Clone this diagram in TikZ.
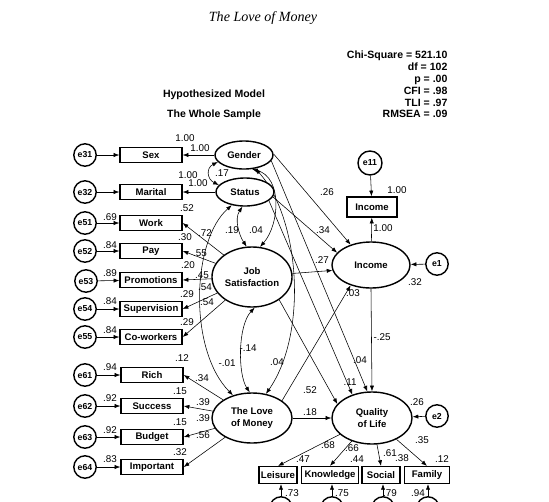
\documentclass[tikz,border=0pt]{standalone}
\usepackage{fontspec}
\setmainfont{Liberation Serif}
\setsansfont{Liberation Sans}
\usetikzlibrary{arrows.meta,shapes.geometric,backgrounds}

\tikzset{
  lat/.style={ellipse,draw,line width=1pt,fill=white,inner sep=0pt,align=center,
    font=\sffamily\bfseries\fontsize{6.8}{9}\selectfont},
  obs/.style={rectangle,draw,line width=1pt,fill=white,minimum width=1.55cm,
    minimum height=0.38cm,inner sep=0pt,font=\sffamily\bfseries\fontsize{6.8}{8}\selectfont},
  err/.style={circle,draw,line width=1pt,fill=white,minimum size=0.56cm,inner sep=0pt,
    font=\sffamily\bfseries\fontsize{6.2}{7}\selectfont},
  num/.style={inner sep=0pt,font=\sffamily\fontsize{7}{8}\selectfont},
  head/.style={inner sep=0pt,font=\sffamily\bfseries\fontsize{7.5}{8.5}\selectfont}
}

\begin{document}
\begin{tikzpicture}[x=0.025cm,y=-0.025cm,line width=0.8pt,>={Latex[length=4pt,width=3pt]}]
\useasboundingbox (0,0) rectangle (549,502);
% ---------- headings ----------
\node[inner sep=0pt,font=\itshape\fontsize{10}{12}\selectfont] (title) at (263,18) {The Love of Money};
\node[head] (hyp) at (214,95) {Hypothesized Model};
\node[head] (whole) at (214,115) {The Whole Sample};
\node[head,align=right,anchor=north east] (fit) at (448,50)
  {Chi-Square = 521.10\\df = 102\\p = .00\\CFI = .98\\TLI = .97\\RMSEA = .09};
% ---------- latent variables ----------
\node[lat,minimum width=1.45cm,minimum height=0.7cm] (gender) at (244,155) {Gender};
\node[lat,minimum width=1.45cm,minimum height=0.7cm] (status) at (245,192) {Status};
\node[lat,minimum width=2cm,minimum height=1.5cm] (jobsat) at (252,277) {Job\\Satisfaction};
\node[lat,minimum width=1.95cm,minimum height=1.15cm] (income) at (371,265) {Income};
\node[lat,minimum width=2cm,minimum height=1.25cm] (lom) at (252,418) {The Love\\of Money};
\node[lat,minimum width=2cm,minimum height=1.3cm] (qol) at (372,418) {Quality\\of Life};
% ---------- observed variables ----------
\node[obs] (sex) at (151,155) {Sex};
\node[obs] (marital) at (151,192) {Marital};
\node[obs] (work) at (151,223) {Work};
\node[obs] (pay) at (151,251) {Pay};
\node[obs] (promo) at (151,280) {Promotions};
\node[obs] (superv) at (151,309) {Supervision};
\node[obs] (cowork) at (151,337) {Co-workers};
\node[obs] (rich) at (152,375) {Rich};
\node[obs] (success) at (152,406) {Success};
\node[obs] (budget) at (152,437) {Budget};
\node[obs] (import) at (152,467) {Important};
\node[obs,minimum width=1.25cm,minimum height=0.5cm] (incbox) at (372,207) {Income};
\node[obs,minimum width=0.95cm,minimum height=0.42cm] (leisure) at (278,475) {Leisure};
\node[obs,minimum width=1.42cm,minimum height=0.42cm] (knowl) at (330,475) {Knowledge};
\node[obs,minimum width=0.95cm,minimum height=0.42cm] (social) at (381,475) {Social};
\node[obs,minimum width=1.13cm,minimum height=0.42cm] (family) at (427,475) {Family};
% ---------- error terms ----------
\node[err] (e31) at (85,155) {e31};
\node[err] (e32) at (85,192) {e32};
\node[err] (e51) at (85,223) {e51};
\node[err] (e52) at (85,251) {e52};
\node[err] (e53) at (86,281) {e53};
\node[err] (e54) at (85,309) {e54};
\node[err] (e55) at (85,337) {e55};
\node[err] (e61) at (85,375) {e61};
\node[err] (e62) at (85,406) {e62};
\node[err] (e63) at (85,437) {e63};
\node[err] (e64) at (85,467) {e64};
\node[err,minimum size=0.6cm] (e11) at (370,163) {e11};
\node[err] (e1) at (437,264) {e1};
\node[err] (e2) at (437,416) {e2};
\node[err] (e71) at (281,508) {};
\node[err] (e72) at (332,508) {};
\node[err] (e73) at (383,508) {};
\node[err] (e74) at (428,508) {};
% ---------- connectors ----------
\begin{scope}[on background layer]
\fill[white] (0,0) rectangle (549,502);
% errors into indicators
\draw[->] (e31) -- (sex);
\draw[->] (e32) -- (marital);
\draw[->] (e51) -- (work);
\draw[->] (e52) -- (pay);
\draw[->] (e53) -- (promo);
\draw[->] (e54) -- (superv);
\draw[->] (e55) -- (cowork);
\draw[->] (e61) -- (rich);
\draw[->] (e62) -- (success);
\draw[->] (e63) -- (budget);
\draw[->] (e64) -- (import);
\draw[->] (e11) -- (incbox);
\draw[->] (e71) -- (e71 |- leisure.south);
\draw[->] (e72) -- (e72 |- knowl.south);
\draw[->] (e73) -- (e73 |- social.south);
\draw[->] (e74) -- (e74 |- family.south);
\draw[->] (e1) -- (income);
\draw[->] (e2) -- (qol);
% loadings
\draw[->] (gender) -- (sex);
\draw[->] (status) -- (marital);
\draw[->] (jobsat) -- (work.east);
\draw[->] (jobsat) -- (pay.east);
\draw[->] (jobsat) -- (promo.east);
\draw[->] (jobsat) -- (superv.east);
\draw[->] (jobsat) -- (cowork.east);
\draw[->] (lom) -- (rich.east);
\draw[->] (lom) -- (success.east);
\draw[->] (lom) -- (budget.east);
\draw[->] (lom) -- (import.east);
\draw[->] (income) -- (incbox);
\draw[->] (qol) -- (leisure.north);
\draw[->] (qol) -- (knowl.north);
\draw[->] (qol) -- (social.north);
\draw[->] (qol) -- (family.north);
% correlations
\draw[<->] (gender.195) .. controls +(-12,6) and +(-12,-6) .. (status.165);
\draw[<->] (status.-100) .. controls +(-8,12) and +(-8,-12) .. (jobsat.100);
\draw[<->] (gender.-60) .. controls +(30,8) and +(20,-23) .. (jobsat.75);
\draw[<->] (gender.-50) .. controls +(45,50) and +(42,-60) .. (lom.60);
\draw[<->] (status.-135) .. controls +(-40,35) and +(-45,-46) .. (lom.130);
\draw[<->] (jobsat.-85) .. controls +(-17,18) and +(-12,-18) .. (lom.95);
% structural paths
\draw[->] (gender.2) -- (income.135);
\draw[->] (status.-10) -- (income.160);
\draw[->] (jobsat.5) -- (income.188);
\draw[->] (lom.30) -- (income.225);
\draw[->] (income.south) -- (qol.north);
\draw[->] (gender.-12) -- (qol.100);
\draw[->] (status.-20) -- (qol.130);
\draw[->] (jobsat.-40) -- (qol.158);
\draw[->] (lom) -- (qol);
\end{scope}
% ---------- estimates, left ----------
\node[num] (vSex) at (185,138) {1.00};
\node[num] (lSex) at (200,148) {1.00};
\node[num] (cGS) at (222,173) {.17};
\node[num] (vMar) at (188,175) {1.00};
\node[num] (lMar) at (198,183) {1.00};
\node[num] (rWork) at (187,208) {.52};
\node[num] (eWork) at (110,217) {.69};
\node[num] (lWork) at (205,233) {.72};
\node[num] (cSJ) at (232,230) {.19};
\node[num] (cGJ) at (256,230) {.04};
\node[num] (rPay) at (185,237) {.30};
\node[num] (ePay) at (110,245) {.84};
\node[num] (lPay) at (200,253) {.55};
\node[num] (rPro) at (188,265) {.20};
\node[num] (ePro) at (110,273) {.89};
\node[num] (lPro) at (202,275) {.45};
\node[num] (lSup) at (205,287) {.54};
\node[num] (rSup) at (187,294) {.29};
\node[num] (eSup) at (110,301) {.84};
\node[num] (lCow) at (207,302) {.54};
\node[num] (rCow) at (187,322) {.29};
\node[num] (eCow) at (110,330) {.84};
\node[num] (cJL) at (248,348) {-.14};
\node[num] (rRich) at (182,358) {.12};
\node[num] (eRich) at (110,367) {.94};
\node[num] (cSL) at (227,363) {-.01};
\node[num] (cGL) at (277,362) {.04};
\node[num] (lRich) at (202,378) {.34};
\node[num] (rSuc) at (180,391) {.15};
\node[num] (eSuc) at (110,398) {.92};
\node[num] (lSuc) at (203,402) {.39};
\node[num] (lBud) at (203,418) {.39};
\node[num] (rBud) at (180,422) {.15};
\node[num] (eBud) at (110,430) {.92};
\node[num] (lImp) at (203,435) {.56};
\node[num] (rImp) at (180,452) {.32};
\node[num] (eImp) at (110,459) {.83};
% ---------- estimates, right ----------
\node[num] (pGI) at (327,192) {.26};
\node[num] (pSI) at (323,230) {.34};
\node[num] (pJI) at (322,260) {.27};
\node[num] (pLI) at (353,293) {.03};
\node[num] (vInc) at (397,190) {1.00};
\node[num] (lInc) at (383,228) {1.00};
\node[num] (rInc) at (415,282) {.32};
\node[num] (pIQ) at (382,337) {-.25};
\node[num] (pGQ) at (360,360) {.04};
\node[num] (pSQ) at (350,382) {.11};
\node[num] (pJQ) at (310,390) {.52};
\node[num] (pLQ) at (310,412) {.18};
\node[num] (rQol) at (417,402) {.26};
\node[num] (lLei) at (328,445) {.68};
\node[num] (lKno) at (352,448) {.66};
\node[num] (lSoc) at (390,453) {.61};
\node[num] (rSoc) at (402,458) {.38};
\node[num] (lFam) at (422,440) {.35};
\node[num] (rLei) at (303,459) {.47};
\node[num] (rKno) at (357,459) {.44};
\node[num] (rFam) at (442,459) {.12};
\node[num] (eLei) at (292,493) {.73};
\node[num] (eKno) at (342,493) {.75};
\node[num] (eSoc) at (390,493) {.79};
\node[num] (eFam) at (418,493) {.94};
\end{tikzpicture}
\end{document}
